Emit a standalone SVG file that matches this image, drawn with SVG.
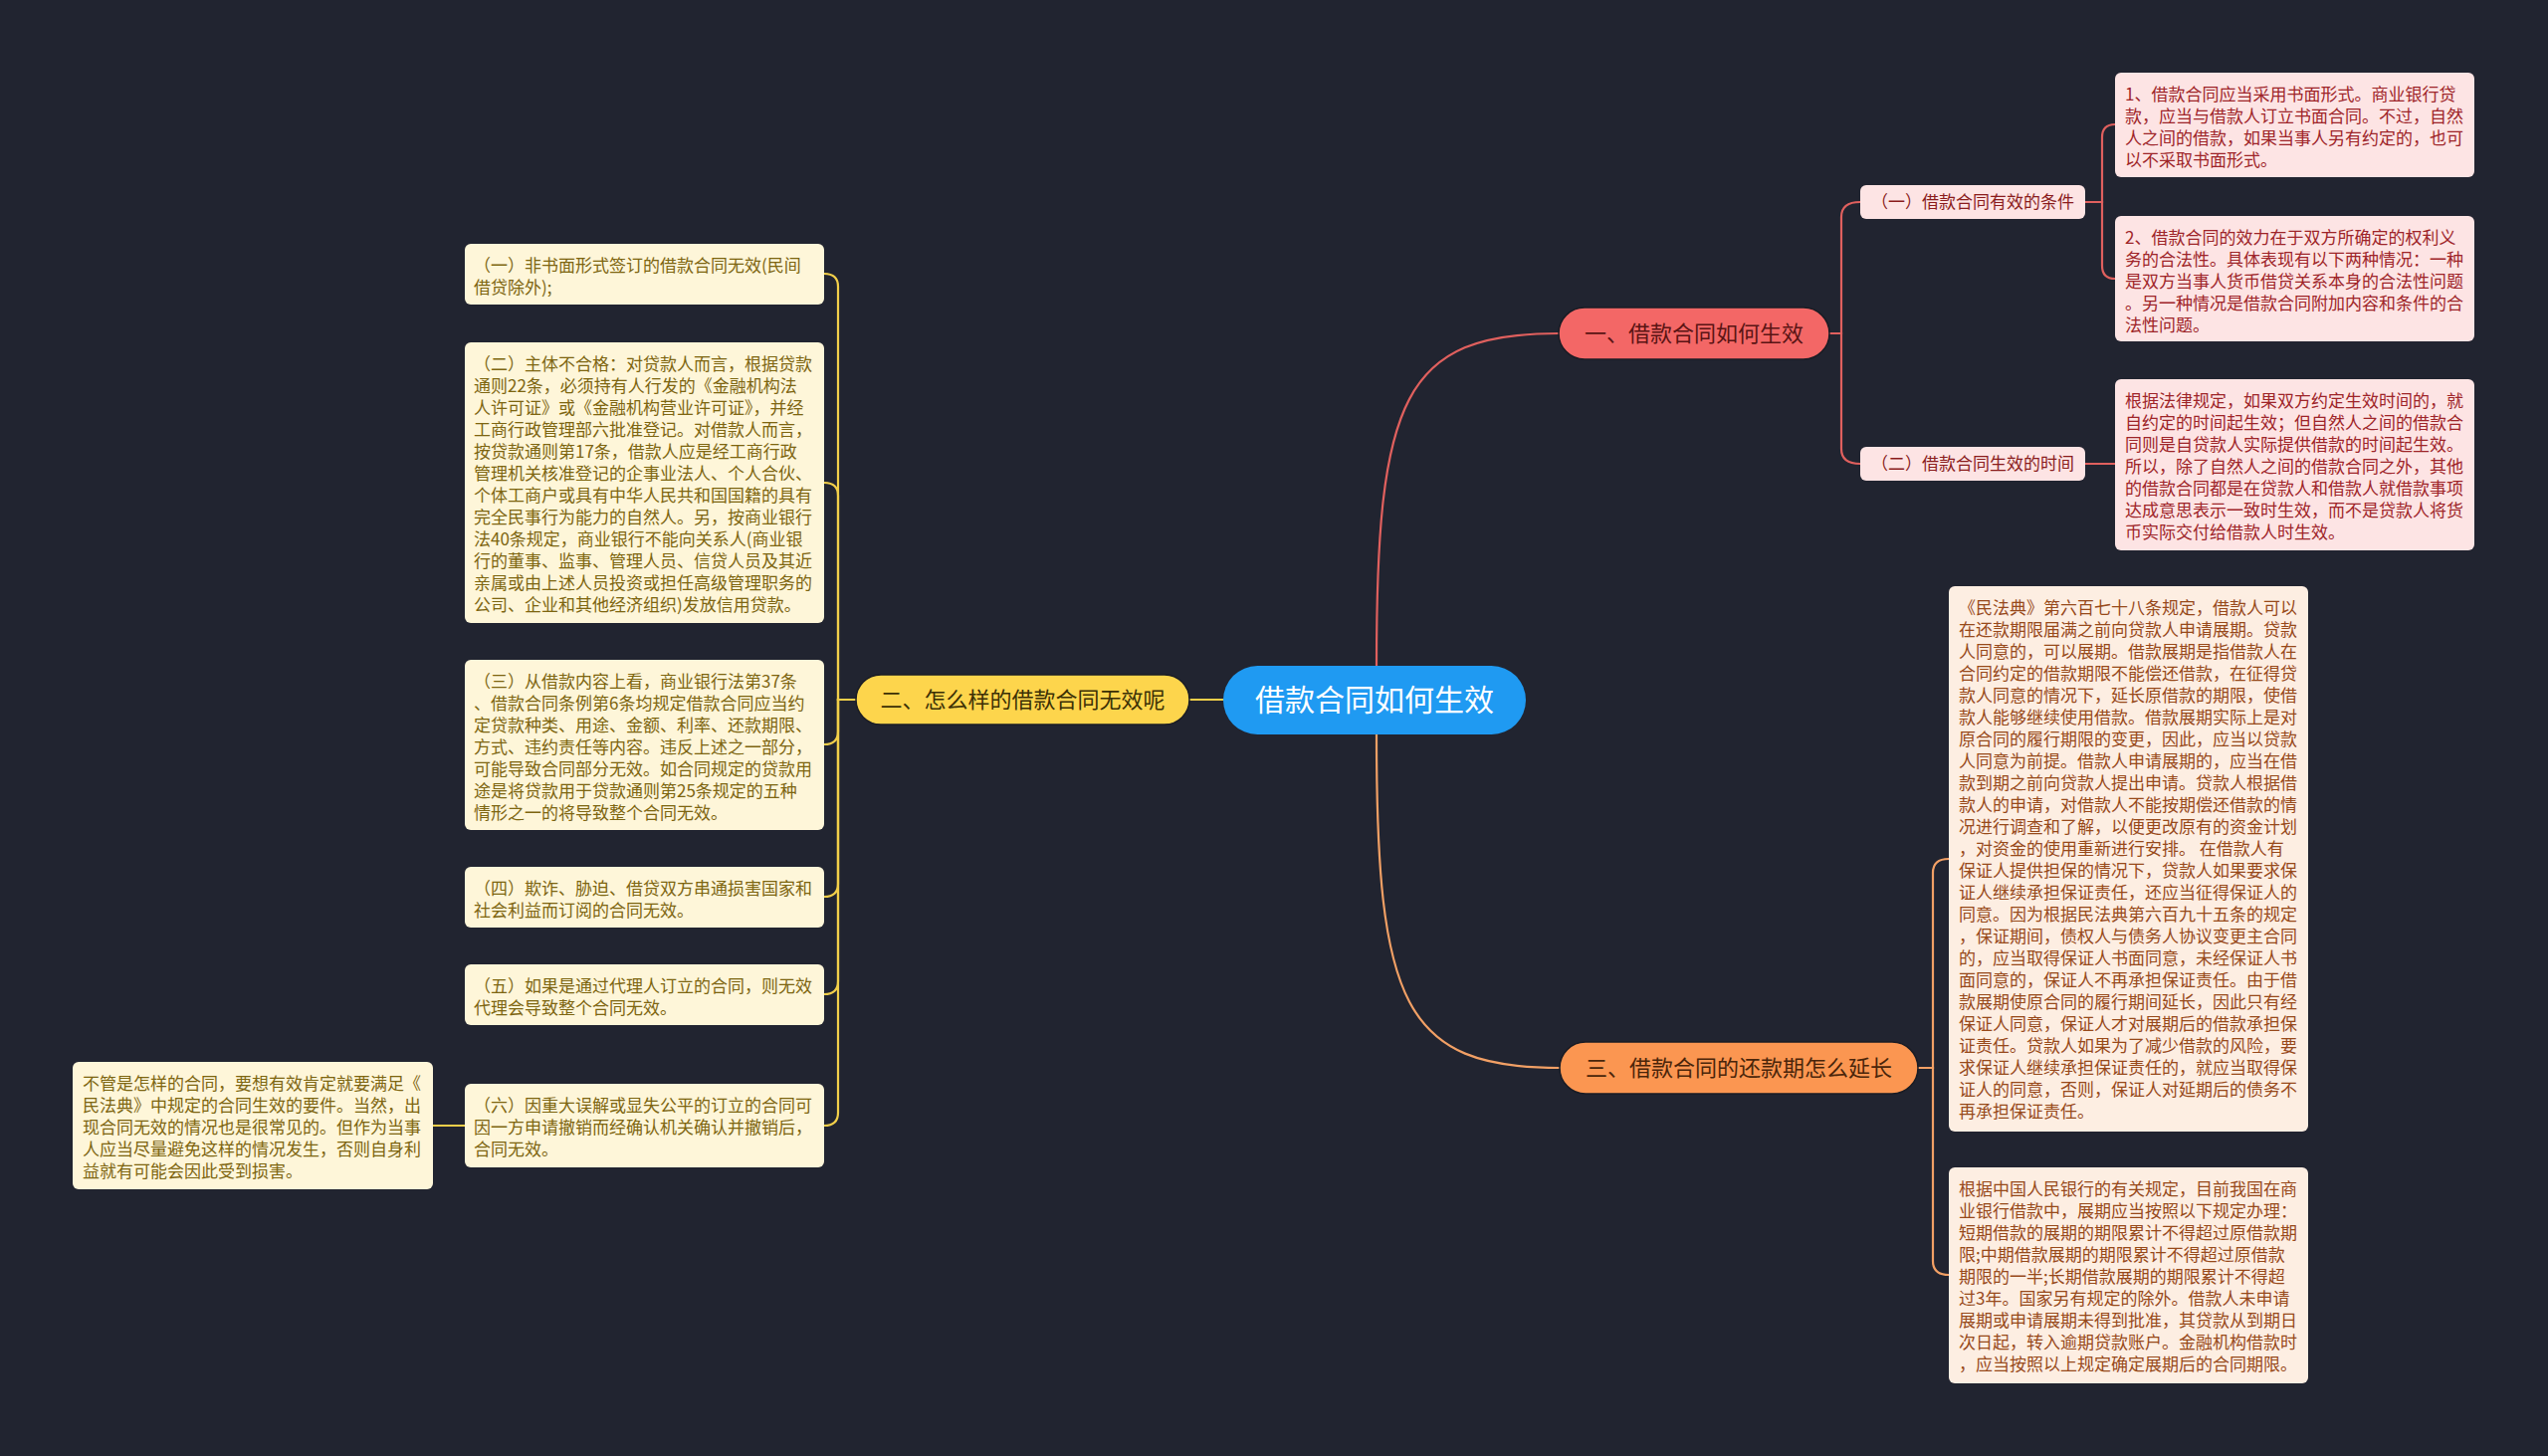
<svg xmlns="http://www.w3.org/2000/svg" width="2560" height="1463" viewBox="0 0 2560 1463">
<style>
text{font-family:"Noto Sans CJK SC","Noto Sans",sans-serif;}
.leaf{font-size:17px;}
.pk{fill:#fde4e4;}
.pkt{fill:#9e2429;}
.cr{fill:#fef6d9;}
.crt{fill:#7d6510;}
.pc{fill:#fdeee2;}
.pct{fill:#97491a;}
.ln{fill:none;stroke-width:2.2;stroke-linecap:round;}
.red{stroke:#e0605e;}
.yel{stroke:#f2cf4a;}
.org{stroke:#f2a065;}
.br{font-size:22px;text-anchor:middle;}
.sub{font-size:17px;text-anchor:middle;fill:#8a1c1c;}
</style>
<rect x="0" y="0" width="2560" height="1463" fill="#212430"/>

<g id="connectors">
  <path class="ln red" stroke-width="2.6" d="M1383 669 C1383 400 1410 335 1566 335"/>
  <path class="ln org" stroke-width="2.6" d="M1383 738 C1383 1008 1410 1073 1567 1073"/>
  <path class="ln yel" stroke-width="2.6" d="M1229 703 L1195 703"/>
  <!-- branch 1 -->
  <path class="ln red" d="M1838 335 H1850 V218 Q1850 203 1869 203"/>
  <path class="ln red" d="M1838 335 H1850 V451 Q1850 466 1869 466"/>
  <path class="ln red" d="M2095 203 H2112 V138 Q2112 125 2125 125"/>
  <path class="ln red" d="M2095 203 H2112 V267 Q2112 280 2125 280"/>
  <path class="ln red" d="M2095 466 H2125"/>
  <!-- branch 3 -->
  <path class="ln org" d="M1927 1073 H1942 V877 Q1942 863 1958 863"/>
  <path class="ln org" d="M1927 1073 H1942 V1267 Q1942 1281 1958 1281"/>
  <!-- branch 2 -->
  <path class="ln yel" d="M860 703 H842 V288 Q842 275 828 275"/>
  <path class="ln yel" d="M860 703 H842 V498 Q842 485 828 485"/>
  <path class="ln yel" d="M860 703 H842 V735 Q842 748 828 748"/>
  <path class="ln yel" d="M860 703 H842 V888 Q842 901 828 901"/>
  <path class="ln yel" d="M860 703 H842 V986 Q842 999 828 999"/>
  <path class="ln yel" d="M860 703 H842 V1118 Q842 1131 828 1131"/>
  <path class="ln yel" d="M467 1131 H435"/>
</g>

<g id="root">
  <rect x="1229" y="669" width="304" height="69" rx="34.5" fill="#1f9af2"/>
  <text x="1381" y="714" font-size="30" text-anchor="middle" fill="#ffffff">借款合同如何生效</text>
</g>

<g id="b1">
  <rect x="1566" y="309" width="272" height="52" rx="26" fill="#f36766" stroke="#1a1c24" stroke-width="1.5"/>
  <text class="br" x="1702" y="343" fill="#5a1414">一、借款合同如何生效</text>
</g>
<g id="b2">
  <rect x="860" y="678" width="335" height="50" rx="25" fill="#fdd54c" stroke="#1a1c24" stroke-width="1.5"/>
  <text class="br" x="1027.5" y="711" fill="#3b3005">二、怎么样的借款合同无效呢</text>
</g>
<g id="b3">
  <rect x="1567" y="1047" width="360" height="52" rx="26" fill="#fb9651" stroke="#1a1c24" stroke-width="1.5"/>
  <text class="br" x="1747" y="1081" fill="#4a250a">三、借款合同的还款期怎么延长</text>
</g>

<g id="s1">
  <rect class="pk" x="1869" y="186" width="226" height="34" rx="6"/>
  <text class="sub" x="1982" y="209">（一）借款合同有效的条件</text>
</g>
<g id="s2">
  <rect class="pk" x="1869" y="449" width="226" height="34" rx="6"/>
  <text class="sub" x="1982" y="472">（二）借款合同生效的时间</text>
</g>

<g id="l1">
  <rect class="pk" x="2125" y="73" width="361" height="105" rx="6"/>
  <text class="leaf pkt" x="2135" y="100.5"><tspan x="2135">1、借款合同应当采用书面形式。商业银行贷</tspan><tspan x="2135" dy="22">款，应当与借款人订立书面合同。不过，自然</tspan><tspan x="2135" dy="22">人之间的借款，如果当事人另有约定的，也可</tspan><tspan x="2135" dy="22">以不采取书面形式。</tspan></text>
</g>
<g id="l2">
  <rect class="pk" x="2125" y="217" width="361" height="126" rx="6"/>
  <text class="leaf pkt" x="2135" y="244.5"><tspan x="2135">2、借款合同的效力在于双方所确定的权利义</tspan><tspan x="2135" dy="22">务的合法性。具体表现有以下两种情况：一种</tspan><tspan x="2135" dy="22">是双方当事人货币借贷关系本身的合法性问题</tspan><tspan x="2135" dy="22">。另一种情况是借款合同附加内容和条件的合</tspan><tspan x="2135" dy="22">法性问题。</tspan></text>
</g>
<g id="l3">
  <rect class="pk" x="2125" y="381" width="361" height="172" rx="6"/>
  <text class="leaf pkt" x="2135" y="408.5"><tspan x="2135">根据法律规定，如果双方约定生效时间的，就</tspan><tspan x="2135" dy="22">自约定的时间起生效；但自然人之间的借款合</tspan><tspan x="2135" dy="22">同则是自贷款人实际提供借款的时间起生效。</tspan><tspan x="2135" dy="22">所以，除了自然人之间的借款合同之外，其他</tspan><tspan x="2135" dy="22">的借款合同都是在贷款人和借款人就借款事项</tspan><tspan x="2135" dy="22">达成意思表示一致时生效，而不是贷款人将货</tspan><tspan x="2135" dy="22">币实际交付给借款人时生效。</tspan></text>
</g>

<g id="l4">
  <rect class="pc" x="1958" y="589" width="361" height="548" rx="6"/>
  <text class="leaf pct" x="1968" y="616.5"><tspan x="1968">《民法典》第六百七十八条规定，借款人可以</tspan><tspan x="1968" dy="22">在还款期限届满之前向贷款人申请展期。贷款</tspan><tspan x="1968" dy="22">人同意的，可以展期。借款展期是指借款人在</tspan><tspan x="1968" dy="22">合同约定的借款期限不能偿还借款，在征得贷</tspan><tspan x="1968" dy="22">款人同意的情况下，延长原借款的期限，使借</tspan><tspan x="1968" dy="22">款人能够继续使用借款。借款展期实际上是对</tspan><tspan x="1968" dy="22">原合同的履行期限的变更，因此，应当以贷款</tspan><tspan x="1968" dy="22">人同意为前提。借款人申请展期的，应当在借</tspan><tspan x="1968" dy="22">款到期之前向贷款人提出申请。贷款人根据借</tspan><tspan x="1968" dy="22">款人的申请，对借款人不能按期偿还借款的情</tspan><tspan x="1968" dy="22">况进行调查和了解，以便更改原有的资金计划</tspan><tspan x="1968" dy="22">，对资金的使用重新进行安排。 在借款人有</tspan><tspan x="1968" dy="22">保证人提供担保的情况下，贷款人如果要求保</tspan><tspan x="1968" dy="22">证人继续承担保证责任，还应当征得保证人的</tspan><tspan x="1968" dy="22">同意。因为根据民法典第六百九十五条的规定</tspan><tspan x="1968" dy="22">，保证期间，债权人与债务人协议变更主合同</tspan><tspan x="1968" dy="22">的，应当取得保证人书面同意，未经保证人书</tspan><tspan x="1968" dy="22">面同意的，保证人不再承担保证责任。由于借</tspan><tspan x="1968" dy="22">款展期使原合同的履行期间延长，因此只有经</tspan><tspan x="1968" dy="22">保证人同意，保证人才对展期后的借款承担保</tspan><tspan x="1968" dy="22">证责任。贷款人如果为了减少借款的风险，要</tspan><tspan x="1968" dy="22">求保证人继续承担保证责任的，就应当取得保</tspan><tspan x="1968" dy="22">证人的同意，否则，保证人对延期后的债务不</tspan><tspan x="1968" dy="22">再承担保证责任。</tspan></text>
</g>
<g id="l5">
  <rect class="pc" x="1958" y="1173" width="361" height="217" rx="6"/>
  <text class="leaf pct" x="1968" y="1200.5"><tspan x="1968">根据中国人民银行的有关规定，目前我国在商</tspan><tspan x="1968" dy="22">业银行借款中，展期应当按照以下规定办理：</tspan><tspan x="1968" dy="22">短期借款的展期的期限累计不得超过原借款期</tspan><tspan x="1968" dy="22">限;中期借款展期的期限累计不得超过原借款</tspan><tspan x="1968" dy="22">期限的一半;长期借款展期的期限累计不得超</tspan><tspan x="1968" dy="22">过3年。国家另有规定的除外。借款人未申请</tspan><tspan x="1968" dy="22">展期或申请展期未得到批准，其贷款从到期日</tspan><tspan x="1968" dy="22">次日起，转入逾期贷款账户。金融机构借款时</tspan><tspan x="1968" dy="22">，应当按照以上规定确定展期后的合同期限。</tspan></text>
</g>

<g id="l6">
  <rect class="cr" x="467" y="245" width="361" height="61" rx="6"/>
  <text class="leaf crt" x="476" y="272.5"><tspan x="476">（一）非书面形式签订的借款合同无效(民间</tspan><tspan x="476" dy="22">借贷除外);</tspan></text>
</g>
<g id="l7">
  <rect class="cr" x="467" y="344" width="361" height="282" rx="6"/>
  <text class="leaf crt" x="476" y="371.5"><tspan x="476">（二）主体不合格：对贷款人而言，根据贷款</tspan><tspan x="476" dy="22">通则22条，必须持有人行发的《金融机构法</tspan><tspan x="476" dy="22">人许可证》或《金融机构营业许可证》，并经</tspan><tspan x="476" dy="22">工商行政管理部六批准登记。对借款人而言，</tspan><tspan x="476" dy="22">按贷款通则第17条，借款人应是经工商行政</tspan><tspan x="476" dy="22">管理机关核准登记的企事业法人、个人合伙、</tspan><tspan x="476" dy="22">个体工商户或具有中华人民共和国国籍的具有</tspan><tspan x="476" dy="22">完全民事行为能力的自然人。另，按商业银行</tspan><tspan x="476" dy="22">法40条规定，商业银行不能向关系人(商业银</tspan><tspan x="476" dy="22">行的董事、监事、管理人员、信贷人员及其近</tspan><tspan x="476" dy="22">亲属或由上述人员投资或担任高级管理职务的</tspan><tspan x="476" dy="22">公司、企业和其他经济组织)发放信用贷款。</tspan></text>
</g>
<g id="l8">
  <rect class="cr" x="467" y="663" width="361" height="171" rx="6"/>
  <text class="leaf crt" x="476" y="690.5"><tspan x="476">（三）从借款内容上看，商业银行法第37条</tspan><tspan x="476" dy="22">、借款合同条例第6条均规定借款合同应当约</tspan><tspan x="476" dy="22">定贷款种类、用途、金额、利率、还款期限、</tspan><tspan x="476" dy="22">方式、违约责任等内容。违反上述之一部分，</tspan><tspan x="476" dy="22">可能导致合同部分无效。如合同规定的贷款用</tspan><tspan x="476" dy="22">途是将贷款用于贷款通则第25条规定的五种</tspan><tspan x="476" dy="22">情形之一的将导致整个合同无效。</tspan></text>
</g>
<g id="l9">
  <rect class="cr" x="467" y="871" width="361" height="61" rx="6"/>
  <text class="leaf crt" x="476" y="898.5"><tspan x="476">（四）欺诈、胁迫、借贷双方串通损害国家和</tspan><tspan x="476" dy="22">社会利益而订阅的合同无效。</tspan></text>
</g>
<g id="l10">
  <rect class="cr" x="467" y="969" width="361" height="61" rx="6"/>
  <text class="leaf crt" x="476" y="996.5"><tspan x="476">（五）如果是通过代理人订立的合同，则无效</tspan><tspan x="476" dy="22">代理会导致整个合同无效。</tspan></text>
</g>
<g id="l11">
  <rect class="cr" x="467" y="1089" width="361" height="84" rx="6"/>
  <text class="leaf crt" x="476" y="1116.5"><tspan x="476">（六）因重大误解或显失公平的订立的合同可</tspan><tspan x="476" dy="22">因一方申请撤销而经确认机关确认并撤销后，</tspan><tspan x="476" dy="22">合同无效。</tspan></text>
</g>
<g id="l12">
  <rect class="cr" x="73" y="1067" width="362" height="128" rx="6"/>
  <text class="leaf crt" x="83" y="1094.5"><tspan x="83">不管是怎样的合同，要想有效肯定就要满足《</tspan><tspan x="83" dy="22">民法典》中规定的合同生效的要件。当然，出</tspan><tspan x="83" dy="22">现合同无效的情况也是很常见的。但作为当事</tspan><tspan x="83" dy="22">人应当尽量避免这样的情况发生，否则自身利</tspan><tspan x="83" dy="22">益就有可能会因此受到损害。</tspan></text>
</g>
</svg>
